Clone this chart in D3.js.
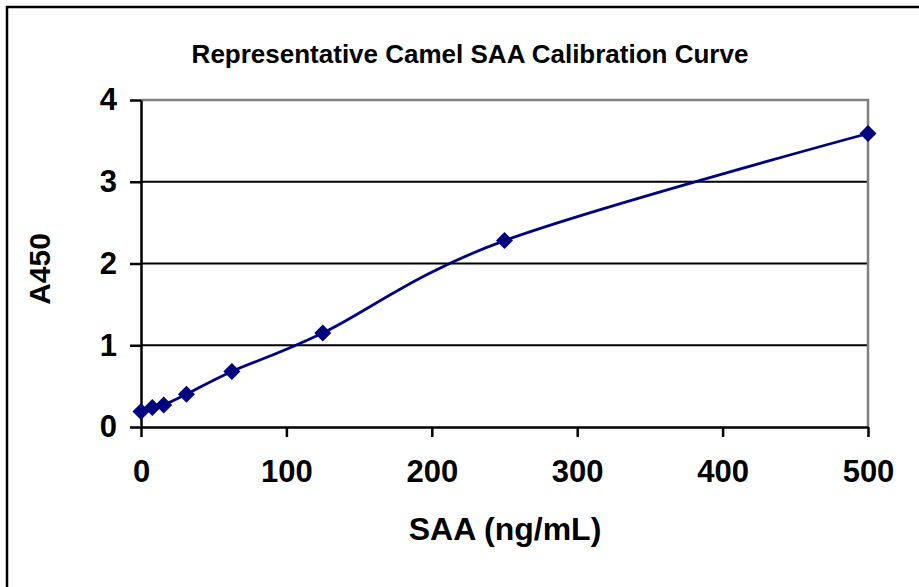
<!DOCTYPE html>
<html><head><meta charset="utf-8">
<script src="https://cdn.jsdelivr.net/npm/d3@7"></script>
<style>html,body{margin:0;padding:0;background:#fff;}svg{display:block;font-family:"Liberation Sans",Arial,sans-serif;}</style>
</head><body>
<script>
const concentrations = [0, 7.8, 15.6, 31.25, 62.5, 125, 250, 500];
const absorbance = [0.19, 0.24, 0.27, 0.40, 0.68, 1.15, 2.28, 3.59];
const xTicks = [0, 100, 200, 300, 400, 500];
const yTicks = [0, 1, 2, 3, 4];
const titleText = "Representative Camel SAA Calibration Curve";
const xTitle = "SAA (ng/mL)";
const yTitle = "A450";

const W = 919, H = 587;
const svg = d3.select("body").append("svg").attr("width", W).attr("height", H);
// outer chart border (extends beyond window right/bottom)
svg.append("rect").attr("x", 7).attr("y", 7).attr("width", 940).attr("height", 620)
  .attr("fill", "none").attr("stroke", "#000").attr("stroke-width", 2.5);

const L = 141, R = 868, T = 100, B = 427;
const x = d3.scaleLinear().domain([0, 500]).range([L, R]);
const y = d3.scaleLinear().domain([0, 4]).range([B, T]);

// gridlines
svg.append("g").selectAll("line").data(yTicks.filter(d => d > 0 && d < 4)).join("line")
  .attr("x1", L).attr("x2", R).attr("y1", d => y(d)).attr("y2", d => y(d))
  .attr("stroke", "#000").attr("stroke-width", 2);
// gray plot border top & right
svg.append("path").attr("d", `M${L},${y(4)}H${R}V${B}`).attr("fill", "none")
  .attr("stroke", "#808080").attr("stroke-width", 2.5);

// axes
const fmt = d3.format("d");
const xAxis = d3.axisBottom(x).tickValues(xTicks).tickFormat(fmt).tickSize(10).tickPadding(23).tickSizeOuter(0);
const gx = svg.append("g").attr("transform", `translate(0,${B})`).call(xAxis);
const yAxis = d3.axisLeft(y).tickValues(yTicks).tickFormat(fmt).tickSize(11).tickPadding(13).tickSizeOuter(0);
const gy = svg.append("g").attr("transform", `translate(${L},0)`).call(yAxis);
[gx, gy].forEach(g => {
  g.select(".domain").attr("stroke", "#000").attr("stroke-width", 2.5);
  g.selectAll(".tick line").attr("stroke", "#000").attr("stroke-width", 2.5);
  g.selectAll(".tick text").attr("fill", "#000").attr("font-size", 31).attr("font-weight", "bold")
    .attr("font-family", "'Liberation Sans', Arial, sans-serif");
});
gx.selectAll(".tick text").attr("y", 33).attr("dy", "0.71em");

// curve
const pts = concentrations.map((c, i) => [x(c), y(absorbance[i])]);
svg.append("path").attr("d", d3.line().curve(d3.curveCardinal.tension(0))(pts))
  .attr("fill", "none").attr("stroke", "#000080").attr("stroke-width", 2.8);
svg.append("g").selectAll("path").data(pts).join("path")
  .attr("transform", d => `translate(${d[0]},${d[1]})`)
  .attr("d", "M0,-8.5L8.5,0L0,8.5L-8.5,0Z").attr("fill", "#000080");

// titles
svg.append("text").attr("x", 470).attr("y", 63).attr("text-anchor", "middle")
  .attr("font-size", 26).attr("font-weight", "bold").text(titleText);
svg.append("text").attr("x", 505).attr("y", 540).attr("text-anchor", "middle")
  .attr("font-size", 32).attr("font-weight", "bold").text(xTitle);
svg.append("text").attr("transform", `translate(50,269) rotate(-90)`).attr("text-anchor", "middle")
  .attr("font-size", 30).attr("font-weight", "bold").text(yTitle);
</script>
</body></html>
